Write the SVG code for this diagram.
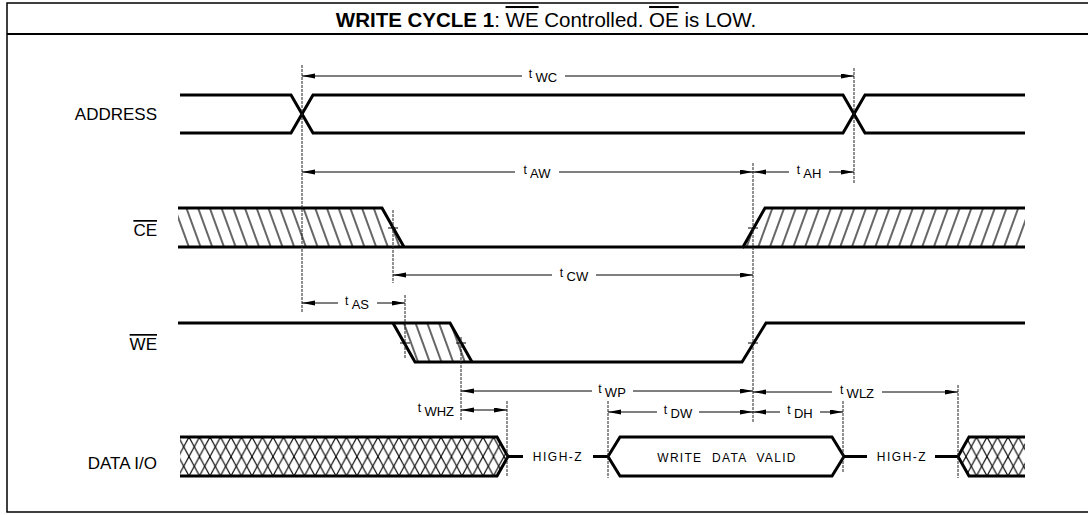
<svg xmlns="http://www.w3.org/2000/svg" width="1088" height="515" viewBox="0 0 1088 515">
<style>
.sig{fill:none;stroke:#000;stroke-width:3;stroke-linejoin:miter}
.vl{stroke:#222;stroke-width:1;stroke-dasharray:3 1;fill:none}
.dim{stroke:#000;stroke-width:1;fill:none}
.lbl{font-family:"Liberation Sans",Arial,sans-serif;font-size:17px;fill:#000}
.t{font-family:"Liberation Sans",Arial,sans-serif;font-size:12px;fill:#000}
.sub{font-size:13px}
.hz{font-family:"Liberation Sans",Arial,sans-serif;font-size:12px;letter-spacing:1.5px;fill:#000}
.ov{text-decoration:overline}
.tick{stroke:#000;stroke-width:1}
</style>
<defs>
<marker id="ah" markerUnits="userSpaceOnUse" markerWidth="14" markerHeight="6" refX="13" refY="2.5" orient="auto-start-reverse">
<path d="M0,0 L13,2.5 L0,5 Z" fill="#000"/>
</marker>
<pattern id="hb" patternUnits="userSpaceOnUse" width="11" height="10" patternTransform="rotate(-20)">
<line x1="5" y1="-1" x2="5" y2="11" stroke="#000" stroke-width="1.2"/>
</pattern>
<pattern id="hf" patternUnits="userSpaceOnUse" width="11" height="10" patternTransform="rotate(20)">
<line x1="5" y1="-1" x2="5" y2="11" stroke="#000" stroke-width="1.2"/>
</pattern>
<pattern id="hx" patternUnits="userSpaceOnUse" x="0" y="437" width="10.5" height="19.5">
<line x1="0" y1="0" x2="10.5" y2="19.5" stroke="#000" stroke-width="1.1"/>
<line x1="10.5" y1="0" x2="0" y2="19.5" stroke="#000" stroke-width="1.1"/>
</pattern>
</defs>
<rect width="1088" height="515" fill="#fff"/>

<g id="frame">
<path d="M1095,3 H7 V512 H1095" fill="none" stroke="#000" stroke-width="1.5"/>
<line x1="7" y1="34" x2="1095" y2="34" stroke="#000" stroke-width="2"/>
<text x="546" y="27" text-anchor="middle" font-family="'Liberation Sans',Arial,sans-serif" font-size="20.5"><tspan font-weight="bold">WRITE CYCLE 1</tspan>: <tspan class="ov">WE</tspan>  Controlled. <tspan class="ov">OE</tspan> is LOW.</text>
</g>

<g id="address">
<text class="lbl" x="157" y="120" text-anchor="end">ADDRESS</text>
<path class="sig" d="M180,95 H291 L313,133 H843 L865,95 H1025"/>
<path class="sig" d="M180,133 H291 L313,95 H843 L865,133 H1025"/>
</g>

<g id="ce">
<text class="lbl ov" x="157" y="236" text-anchor="end">CE</text>
<path d="M178,208 H382 L404,247 H178 Z" fill="url(#hb)"/>
<path d="M743,247 L765,208 H1025 V247 Z" fill="url(#hf)"/>
<path class="sig" d="M178,208 H382 L404,247"/>
<path class="sig" d="M178,247 H743 L765,208 H1025"/>
<path class="sig" d="M743,247 H1025"/>
</g>

<g id="we">
<text class="lbl ov" x="157" y="350" text-anchor="end">WE</text>
<path d="M393,323 H450 L472,362 H415 Z" fill="url(#hb)"/>
<path class="sig" d="M178,323 H450 L472,362"/>
<path class="sig" d="M393,323 L415,362 H742 L766,323 H1025"/>
</g>

<g id="data">
<text class="lbl" x="157" y="469" text-anchor="end">DATA I/O</text>
<path d="M180,437 H497 L508,456.5 L497,476 H180 Z" fill="url(#hx)"/>
<path class="sig" d="M180,437 H497 L508,456.5 L497,476 H180"/>
<path class="sig" d="M508,456.5 H523"/>
<text class="hz" x="558" y="461" text-anchor="middle">HIGH-Z</text>
<path class="sig" d="M593,456.5 H608"/>
<path class="sig" d="M608,456.5 L620,437 H832 L844,456.5 L832,476 H620 Z"/>
<text class="hz" x="727" y="462" text-anchor="middle" style="letter-spacing:1.3px;word-spacing:5px">WRITE DATA VALID</text>
<path class="sig" d="M844,456.5 H867"/>
<text class="hz" x="902" y="461" text-anchor="middle">HIGH-Z</text>
<path class="sig" d="M935,456.5 H958"/>
<path d="M1025,437 H969 L958,456.5 L969,476 H1025 Z" fill="url(#hx)"/>
<path class="sig" d="M1025,437 H969 L958,456.5 L969,476 H1025"/>
</g>

<g id="connectors">
<line class="vl" x1="302" y1="65" x2="302" y2="312"/>
<line class="vl" x1="854" y1="68" x2="854" y2="183"/>
<line class="vl" x1="753" y1="163" x2="753" y2="422"/>
<line class="vl" x1="393" y1="210" x2="393" y2="283"/>
<line class="vl" x1="405" y1="295" x2="405" y2="358"/>
<line class="vl" x1="461" y1="337" x2="461" y2="420"/>
<line class="vl" x1="507" y1="401" x2="507" y2="477"/>
<line class="vl" x1="608" y1="401" x2="608" y2="478"/>
<line class="vl" x1="843" y1="401" x2="843" y2="472"/>
<line class="vl" x1="958" y1="385" x2="958" y2="478"/>
<line class="tick" x1="388" y1="228" x2="398" y2="228"/>
<line class="tick" x1="748" y1="228" x2="758" y2="228"/>
<line class="tick" x1="400" y1="343" x2="410" y2="343"/>
<line class="tick" x1="456" y1="343" x2="466" y2="343"/>
<line class="tick" x1="748" y1="343" x2="758" y2="343"/>

<line class="dim" x1="302" y1="76" x2="522" y2="76" marker-start="url(#ah)"/>
<line class="dim" x1="565" y1="76" x2="854" y2="76" marker-end="url(#ah)"/>
<text class="t" x="543" y="78" text-anchor="middle">t <tspan class="sub" dy="4">WC</tspan></text>

<line class="dim" x1="302" y1="172" x2="515" y2="172" marker-start="url(#ah)"/>
<line class="dim" x1="559" y1="172" x2="753" y2="172" marker-end="url(#ah)"/>
<text class="t" x="537" y="174" text-anchor="middle">t <tspan class="sub" dy="4">AW</tspan></text>

<line class="dim" x1="753" y1="172" x2="789" y2="172" marker-start="url(#ah)"/>
<line class="dim" x1="829" y1="172" x2="854" y2="172" marker-end="url(#ah)"/>
<text class="t" x="809" y="174" text-anchor="middle">t <tspan class="sub" dy="4">AH</tspan></text>

<line class="dim" x1="393" y1="275" x2="552" y2="275" marker-start="url(#ah)"/>
<line class="dim" x1="596" y1="275" x2="753" y2="275" marker-end="url(#ah)"/>
<text class="t" x="574" y="277" text-anchor="middle">t <tspan class="sub" dy="4">CW</tspan></text>

<line class="dim" x1="302" y1="303" x2="338" y2="303" marker-start="url(#ah)"/>
<line class="dim" x1="377" y1="303" x2="405" y2="303" marker-end="url(#ah)"/>
<text class="t" x="357" y="305" text-anchor="middle">t <tspan class="sub" dy="4">AS</tspan></text>

<line class="dim" x1="461" y1="391" x2="592" y2="391" marker-start="url(#ah)"/>
<line class="dim" x1="633" y1="391" x2="753" y2="391" marker-end="url(#ah)"/>
<text class="t" x="612" y="393" text-anchor="middle">t <tspan class="sub" dy="4">WP</tspan></text>

<line class="dim" x1="753" y1="392" x2="832" y2="392" marker-start="url(#ah)"/>
<line class="dim" x1="882" y1="392" x2="958" y2="392" marker-end="url(#ah)"/>
<text class="t" x="857" y="394" text-anchor="middle">t <tspan class="sub" dy="4">WLZ</tspan></text>

<line class="dim" x1="461" y1="410" x2="507" y2="410" marker-start="url(#ah)" marker-end="url(#ah)"/>
<text class="t" x="454" y="412" text-anchor="end">t <tspan class="sub" dy="4">WHZ</tspan></text>

<line class="dim" x1="608" y1="412" x2="657" y2="412" marker-start="url(#ah)"/>
<line class="dim" x1="699" y1="412" x2="753" y2="412" marker-end="url(#ah)"/>
<text class="t" x="678" y="414" text-anchor="middle">t <tspan class="sub" dy="4">DW</tspan></text>

<line class="dim" x1="753" y1="412" x2="780" y2="412" marker-start="url(#ah)"/>
<line class="dim" x1="820" y1="412" x2="843" y2="412" marker-end="url(#ah)"/>
<text class="t" x="800" y="414" text-anchor="middle">t <tspan class="sub" dy="4">DH</tspan></text>
</g>
</svg>
